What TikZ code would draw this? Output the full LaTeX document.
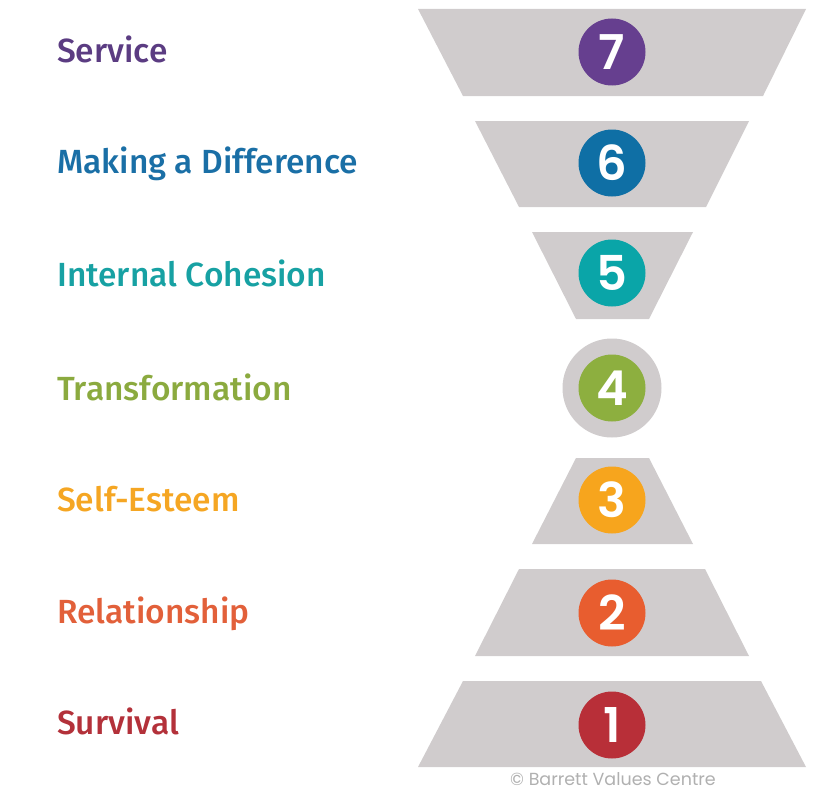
\documentclass[tikz,border=0pt]{standalone}
\usepackage{fontspec}
\setmainfont{Fira Sans}[BoldFont={Fira Sans Medium}]
\newfontfamily\digitfont{Poppins SemiBold}
\newfontfamily\copyfont{Poppins}
\definecolor{band}{HTML}{D0CCCD}
\definecolor{c7}{HTML}{663F8F}
\definecolor{c6}{HTML}{0F6FA5}
\definecolor{c5}{HTML}{0AA5A8}
\definecolor{c4}{HTML}{8DAF3F}
\definecolor{c3}{HTML}{F7A51D}
\definecolor{c2}{HTML}{E85D2F}
\definecolor{c1}{HTML}{B82F38}
\definecolor{t7}{HTML}{5B3C82}
\definecolor{t6}{HTML}{1A6FA6}
\definecolor{t5}{HTML}{17A1A3}
\definecolor{t4}{HTML}{8BAA3F}
\definecolor{t3}{HTML}{F5A623}
\definecolor{t2}{HTML}{E2603A}
\definecolor{t1}{HTML}{B3313A}
\definecolor{copyc}{HTML}{B0B0B0}
\begin{document}
\begin{tikzpicture}[x=1pt,y=-1pt,
  lbl/.style={anchor=base west,inner sep=0pt,font=\fontsize{33.5}{33.5}\selectfont\bfseries},
  num/.style={circle,minimum size=67pt,inner sep=0pt,text=white,font=\fontsize{48}{48}\digitfont},
  bandfill/.style={fill=band,draw=none}]
\useasboundingbox (0,0) rectangle (827,792);
% bands
\fill[bandfill] (418,9) -- (806,9) -- (763,96) -- (463,96) -- cycle;
\fill[bandfill] (475,121) -- (749,121) -- (706,207) -- (519,207) -- cycle;
\fill[bandfill] (532,232) -- (693,232) -- (649,319) -- (576,319) -- cycle;
\fill[bandfill] (612,388) circle (49.5);
\fill[bandfill] (576,458) -- (649,458) -- (693,544) -- (532,544) -- cycle;
\fill[bandfill] (519,569) -- (705,569) -- (749,656) -- (475,656) -- cycle;
\fill[bandfill] (463,681) -- (761,681) -- (806,767) -- (418,767) -- cycle;
% numbers
\node[num,fill=c7] (n7) at (612,52) {7};
\node[num,fill=c6] (n6) at (612,163) {6};
\node[num,fill=c5] (n5) at (612,273) {5};
\node[num,fill=c4] (n4) at (612,388) {4};
\node[num,fill=c3] (n3) at (612,500) {3};
\node[num,fill=c2] (n2) at (612,613) {2};
\node[num,fill=c1] (n1) at (612,725) {1};
% labels
\node[lbl,text=t7] (l7) at (57,63) {Service};
\node[lbl,text=t6] (l6) at (57,173) {Making a Difference};
\node[lbl,text=t5] (l5) at (57,286) {Internal Cohesion};
\node[lbl,text=t4] (l4) at (57,400) {Transformation};
\node[lbl,text=t3] (l3) at (57,511) {Self-Esteem};
\node[lbl,text=t2] (l2) at (57,623) {Relationship};
\node[lbl,text=t1] (l1) at (57,734) {Survival};
\node[anchor=base,inner sep=0pt,text=copyc,font=\fontsize{17.5}{17.5}\copyfont] (cp) at (613,785) {© Barrett Values Centre};
\end{tikzpicture}
\end{document}
